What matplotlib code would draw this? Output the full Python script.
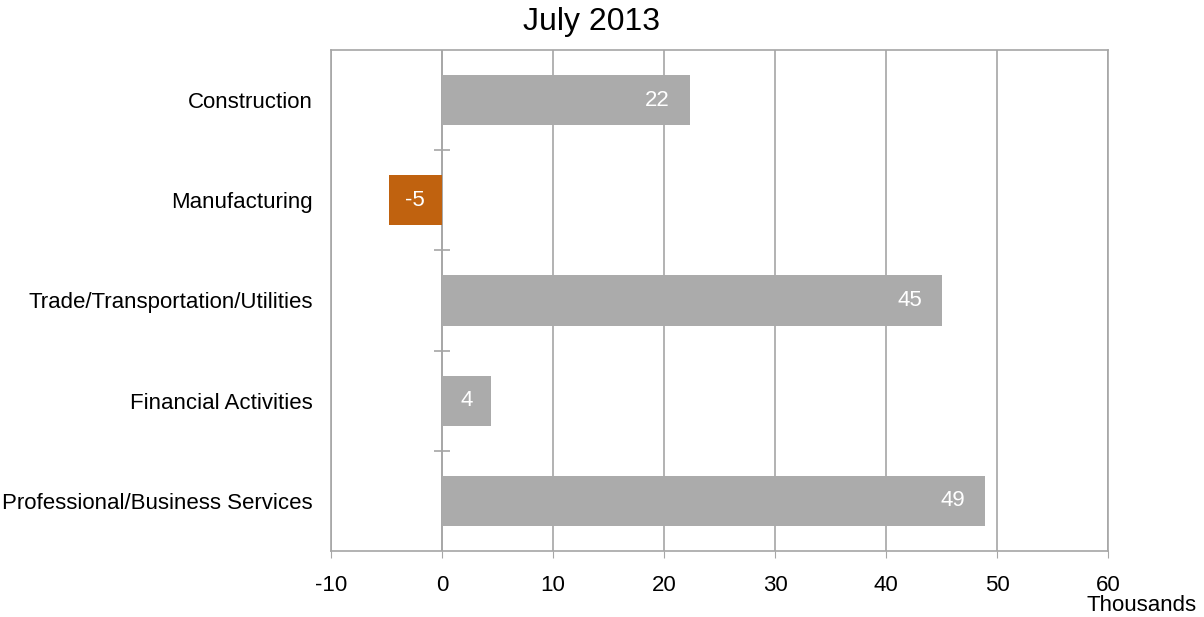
import matplotlib.pyplot as plt
import numpy as np

plt.rcParams['font.family'] = ['Liberation Sans', 'DejaVu Sans']
plt.rcParams['axes.unicode_minus'] = False

categories = ['Construction', 'Manufacturing', 'Trade/Transportation/Utilities',
              'Financial Activities', 'Professional/Business Services']
values = [22.3, -4.8, 45.0, 4.4, 48.9]
labels = ['22', '-5', '45', '4', '49']

gray = '#ABABAB'
orange = '#C0620F'
axis_col = '#A6A6A6'

fig = plt.figure(figsize=(12.04, 6.17), dpi=100)
ax = fig.add_axes([0.2749, 0.107, 0.6454, 0.812])

y = np.arange(len(categories))
colors = [orange if v < 0 else gray for v in values]
ax.barh(y, values, height=0.5, color=colors, zorder=3)

for yi, v, lab in zip(y, values, labels):
    if abs(v) < 8:
        ax.text(v / 2, yi, lab, ha='center', va='center', color='white', fontsize=16, zorder=4)
    else:
        ax.annotate(lab, (v, yi), xytext=(-14, 0), textcoords='offset points',
                    ha='right', va='center', color='white', fontsize=16, zorder=4)

ax.set_xlim(-10, 60)
ax.set_ylim(len(categories) - 0.5, -0.5)
ax.set_xticks(np.arange(-10, 61, 10))
ax.set_yticks(y)
ax.set_yticklabels(categories)
ax.tick_params(axis='y', length=0, pad=13, labelsize=16)
ax.tick_params(axis='x', direction='out', length=5, color=axis_col, labelsize=16, pad=12)

ax.grid(axis='x', color=axis_col, linewidth=1.2, zorder=0)
for s in ax.spines.values():
    s.set_color(axis_col)
    s.set_linewidth(1.2)

# category axis at zero with tick marks between categories
ax.axvline(0, color=axis_col, linewidth=1.2, zorder=2)
ax.plot([0] * 4, y[:-1] + 0.5, marker='_', markersize=11, markeredgewidth=1.2,
        color=axis_col, ls='none', zorder=2, clip_on=False)

fig.text(0.491, 0.964, 'July 2013', ha='center', va='center', fontsize=23)
fig.text(0.948, 0.019, 'Thousands', ha='center', va='center', fontsize=16)

plt.savefig('out.png', dpi=100)
